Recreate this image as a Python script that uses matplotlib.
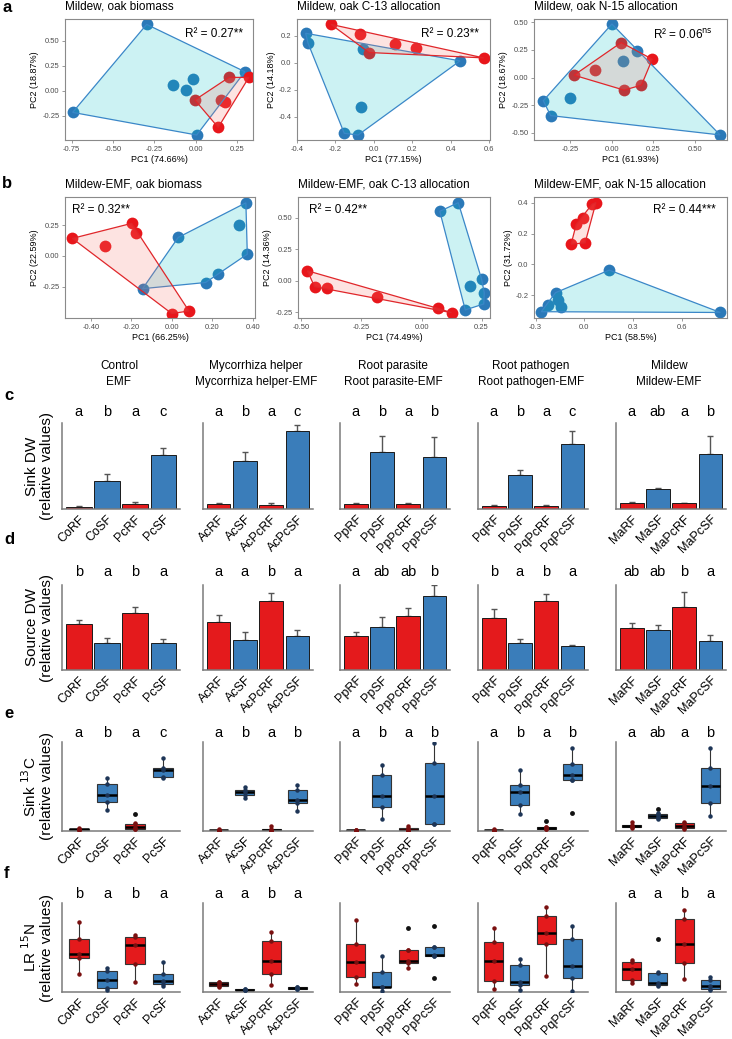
import numpy as np
import matplotlib.pyplot as plt
from matplotlib.transforms import blended_transform_factory

plt.rcParams['font.family'] = ['Liberation Sans', 'DejaVu Sans']

# ---- PCA data (a, b) ----
a1_blue = [(-0.297, 0.663), (-0.744, -0.217), (0.005, -0.443), (0.296, 0.19), (-0.136, 0.057), (-0.06, 0.007), (-0.016, 0.117)]
a1_red = [(-0.006, -0.093), (0.2, 0.133), (0.32, 0.133), (0.15, -0.093), (0.175, -0.11), (0.135, -0.367)]
a2_blue = [(-0.355, 0.22), (-0.343, 0.148), (-0.056, 0.106), (0.449, 0.015), (-0.068, -0.326), (-0.154, -0.523), (-0.082, -0.536)]
a2_red = [(-0.223, 0.286), (-0.071, 0.217), (-0.025, 0.077), (0.108, 0.143), (0.22, 0.114), (0.572, 0.037)]
a3_blue = [(0.0, 0.485), (-0.413, -0.21), (-0.369, -0.345), (-0.254, -0.19), (0.066, 0.151), (0.15, 0.24), (0.651, -0.52)]
a3_red = [(-0.228, 0.021), (-0.103, 0.066), (0.056, 0.317), (0.243, 0.166), (0.073, -0.114), (0.178, -0.069)]
b1_blue = [(-0.145, -0.266), (0.031, 0.15), (0.166, -0.216), (0.229, -0.143), (0.329, 0.25), (0.365, 0.431), (0.372, 0.014)]
b1_red = [(-0.492, 0.142), (-0.331, 0.083), (-0.199, 0.264), (-0.179, 0.187), (-0.001, -0.468), (0.084, -0.447)]
b2_blue = [(0.076, 0.55), (0.153, 0.618), (0.203, -0.04), (0.25, 0.013), (0.261, -0.095), (0.259, -0.184), (0.182, -0.231)]
b2_red = [(-0.475, 0.079), (-0.445, -0.047), (-0.392, -0.06), (-0.187, -0.126), (0.067, -0.218), (0.125, -0.253)]
b3_blue = [(-0.265, -0.308), (-0.222, -0.264), (-0.177, -0.184), (-0.159, -0.232), (-0.142, -0.275), (0.154, -0.037), (0.839, -0.313)]
b3_red = [(-0.081, 0.132), (-0.05, 0.26), (-0.009, 0.299), (0.005, 0.14), (0.048, 0.392), (0.072, 0.403)]

pca_titles = ['Mildew, oak biomass', 'Mildew, oak C-13 allocation', 'Mildew, oak N-15 allocation',
              'Mildew-EMF, oak biomass', 'Mildew-EMF, oak C-13 allocation', 'Mildew-EMF, oak N-15 allocation']
pca_xlabels = ['PC1 (74.66%)', 'PC1 (77.15%)', 'PC1 (61.93%)', 'PC1 (66.25%)', 'PC1 (74.49%)', 'PC1 (58.5%)']
pca_ylabels = ['PC2 (18.87%)', 'PC2 (14.18%)', 'PC2 (18.67%)', 'PC2 (22.59%)', 'PC2 (14.36%)', 'PC2 (31.72%)']
pca_r2 = ['R² = 0.27**', 'R² = 0.23**', r'R² = 0.06$^{\rm ns}$',
          'R² = 0.32**', 'R² = 0.42**', 'R² = 0.44***']

# ---- bar / box data (c-f) ----
group_titles = ['Control\nEMF', 'Mycorrhiza helper\nMycorrhiza helper-EMF', 'Root parasite\nRoot parasite-EMF',
                'Root pathogen\nRoot pathogen-EMF', 'Mildew\nMildew-EMF']
treat_labels = [['CoRF', 'CoSF', 'PcRF', 'PcSF'], ['AcRF', 'AcSF', 'AcPcRF', 'AcPcSF'],
                ['PpRF', 'PpSF', 'PpPcRF', 'PpPcSF'], ['PqRF', 'PqSF', 'PqPcRF', 'PqPcSF'],
                ['MaRF', 'MaSF', 'MaPcRF', 'MaPcSF']]

sink_dw_mean = [[2.7, 32.6, 5.8, 63.1], [5.8, 56.2, 5.0, 90.7], [5.8, 66.6, 5.8, 60.8],
                [3.5, 39.9, 3.5, 75.6], [7.3, 23.6, 6.6, 64.0]]
sink_dw_se = [[1.2, 8.1, 2.0, 7.8], [1.6, 10.5, 1.4, 6.6], [1.0, 18.6, 1.2, 23.3],
              [0.8, 5.4, 0.8, 15.1], [1.0, 1.0, 0.8, 21.3]]
sink_dw_letters = [['a', 'b', 'a', 'c'], ['a', 'b', 'a', 'c'], ['a', 'b', 'a', 'b'],
                   ['a', 'b', 'a', 'c'], ['a', 'ab', 'a', 'b']]

source_dw_mean = [[54.1, 32.1, 67.5, 31.4], [56.5, 35.3, 81.2, 40.4], [40.0, 50.2, 63.5, 87.5],
                  [61.6, 32.2, 81.6, 28.2], [49.8, 47.1, 74.5, 34.5]]
source_dw_se = [[4.7, 5.1, 7.1, 4.7], [7.8, 9.8, 9.0, 6.7], [4.3, 12.5, 9.0, 12.9],
                [9.8, 3.9, 7.8, 0.8], [5.9, 5.5, 17.6, 7.1]]
source_dw_letters = [['b', 'a', 'b', 'a'], ['a', 'a', 'b', 'a'], ['a', 'ab', 'ab', 'b'],
                     ['b', 'a', 'b', 'a'], ['ab', 'ab', 'b', 'a']]

# (whisker low, q1, median, q3, whisker high)
sink_c13_box = [
    [(0.7, 1.1, 1.9, 2.6, 3.0), (23.5, 32.5, 41.0, 52.6, 59.0), (1.9, 2.6, 4.9, 7.5, 8.6), (59.0, 60.8, 69.0, 71.3, 82.5)],
    [(0.4, 0.7, 1.1, 1.5, 1.9), (37.3, 40.3, 43.3, 45.9, 49.6), (0.2, 0.4, 1.1, 1.9, 6.0), (22.8, 31.0, 34.7, 46.6, 52.2)],
    [(0.2, 0.4, 0.7, 1.1, 1.5), (13.1, 27.2, 39.2, 62.7, 73.9), (0.2, 0.7, 1.5, 3.0, 5.6), (7.8, 7.8, 39.2, 76.9, 98.9)],
    [(0.4, 0.7, 1.1, 1.5, 1.9), (19.0, 29.1, 44.0, 51.5, 69.0), (2.2, 2.6, 3.4, 4.1, 4.5), (57.8, 57.8, 62.7, 75.7, 93.3)],
    [(3.4, 4.1, 5.2, 6.7, 10.4), (13.1, 14.2, 16.8, 18.7, 19.8), (2.2, 3.7, 5.6, 8.6, 9.7), (16.8, 31.7, 50.4, 71.3, 93.7)]]
sink_c13_fliers = [[[], [], [19.0], []], [[], [], [], []], [[], [], [], []],
                   [[], [], [11.6], [19.8]], [[], [25.0], [], []]]
sink_c13_letters = [['a', 'b', 'a', 'c'], ['a', 'b', 'a', 'b'], ['a', 'b', 'a', 'b'],
                    ['a', 'b', 'a', 'b'], ['a', 'ab', 'a', 'b']]

lr_n15_box = [
    [(20.0, 37.7, 42.6, 59.2, 78.5), (1.9, 4.5, 13.2, 23.4, 27.2), (11.3, 31.3, 52.8, 61.5, 64.2), (6.4, 8.7, 12.8, 20.4, 33.2)],
    [(5.7, 7.2, 9.1, 10.9, 11.7), (1.9, 2.3, 2.6, 3.0, 3.4), (7.9, 20.0, 34.7, 57.4, 67.9), (3.0, 3.4, 4.5, 5.3, 5.7)],
    [(9.4, 17.0, 33.2, 54.0, 81.1), (1.1, 5.3, 5.7, 22.3, 40.4), (27.5, 32.1, 35.1, 47.2, 47.2), (40.8, 40.8, 41.5, 50.9, 50.9)],
    [(3.8, 12.5, 34.7, 56.6, 71.7), (2.6, 7.9, 11.3, 29.8, 36.6), (17.7, 54.0, 66.0, 85.7, 95.1), (1.1, 16.2, 29.1, 60.0, 73.6)],
    [(10.2, 14.0, 26.4, 33.2, 35.8), (6.4, 7.5, 10.2, 21.5, 22.6), (14.7, 32.1, 53.6, 81.9, 91.7), (1.9, 3.0, 6.8, 14.0, 17.0)]]
lr_n15_fliers = [[[], [], [], []], [[], [], [], []], [[], [], [71.7], [73.6, 16.2]],
                 [[], [], [], []], [[], [59.2], [], []]]
lr_n15_letters = [['b', 'a', 'b', 'a'], ['a', 'a', 'b', 'a'], ['', '', '', ''],
                  ['', '', '', ''], ['a', 'a', 'b', 'a']]

RED, BLUE = '#E41A1C', '#3A7DBA'
PT_BLUE, PT_RED = '#2B79B8', '#E8161B'
W, H = 732, 1039
fig = plt.figure(figsize=(W / 100, H / 100), dpi=100)


def px_axes(x0, y0, x1, y1):
    return fig.add_axes([x0 / W, 1 - y1 / H, (x1 - x0) / W, (y1 - y0) / H])


def hull(pts):
    pts = sorted(set(pts))

    def cross(o, a, b):
        return (a[0] - o[0]) * (b[1] - o[1]) - (a[1] - o[1]) * (b[0] - o[0])
    lower, upper = [], []
    for p in pts:
        while len(lower) >= 2 and cross(lower[-2], lower[-1], p) <= 0:
            lower.pop()
        lower.append(p)
    for p in reversed(pts):
        while len(upper) >= 2 and cross(upper[-2], upper[-1], p) <= 0:
            upper.pop()
        upper.append(p)
    return np.array(lower[:-1] + upper[:-1])


def pca_panel(rect, blue, red, k, xlim, ylim, xt, yt, fmt, r2xy):
    ax = px_axes(*rect)
    for pts, col in ((blue, PT_BLUE), (red, PT_RED)):
        arr = np.array(pts)
        ax.scatter(arr[:, 0], arr[:, 1], s=72, color=col, linewidths=0, zorder=2)
    for pts, col, fill in ((blue, '#3A87C8', '#00BFC4'), (red, '#E0262A', '#F8766D')):
        h = hull(pts)
        ax.fill(h[:, 0], h[:, 1], facecolor=fill, alpha=0.2, edgecolor='none', zorder=3)
        ax.fill(h[:, 0], h[:, 1], facecolor='none', edgecolor=col, lw=0.9, zorder=3)
    ax.set_xlim(*xlim)
    ax.set_ylim(*ylim)
    ax.set_xticks(xt)
    ax.set_yticks(yt)
    ax.set_xticklabels([fmt % v for v in xt])
    ax.set_yticklabels([fmt % v for v in yt])
    ax.tick_params(labelsize=5.5, colors='#8a8a8a', labelcolor='#4d4d4d', length=2.5, width=0.6, pad=1.5)
    for s in ax.spines.values():
        s.set_color('#8a8a8a')
        s.set_linewidth(0.8)
    ax.set_xlabel(pca_xlabels[k], fontsize=6.5, labelpad=1.5)
    ax.set_ylabel(pca_ylabels[k], fontsize=6.5, labelpad=2)
    ax.text(0.0, 1.1, pca_titles[k], transform=ax.transAxes, fontsize=8.5, ha='left', va='center')
    ax.text(r2xy[0], r2xy[1], pca_r2[k], transform=ax.transAxes, fontsize=8.5, ha='center', va='center')
    return ax


pca_panel((65, 19, 253, 140), a1_blue, a1_red, 0, (-0.79, 0.345), (-0.493, 0.717),
          [-0.75, -0.5, -0.25, 0, 0.25], [-0.25, 0, 0.25, 0.5], '%.2f', (0.79, 0.88))
pca_panel((297, 19, 490, 140), a2_blue, a2_red, 1, (-0.395, 0.605), (-0.573, 0.326),
          [-0.4, -0.2, 0, 0.2, 0.4, 0.6], [-0.4, -0.2, 0, 0.2], '%.1f', (0.79, 0.88))
pca_panel((534, 19, 727, 140), a3_blue, a3_red, 2, (-0.469, 0.693), (-0.566, 0.53),
          [-0.25, 0, 0.25, 0.5], [-0.5, -0.25, 0, 0.25, 0.5], '%.2f', (0.77, 0.88))
pca_panel((65, 197, 255, 318), b1_blue, b1_red, 3, (-0.528, 0.41), (-0.504, 0.478),
          [-0.4, -0.2, 0, 0.2, 0.4], [-0.25, 0, 0.25], '%.2f', (0.19, 0.89))
pca_panel((298, 197, 490, 318), b2_blue, b2_red, 4, (-0.514, 0.285), (-0.295, 0.663),
          [-0.5, -0.25, 0, 0.25], [-0.25, 0, 0.25, 0.5], '%.2f', (0.21, 0.89))
pca_panel((534, 197, 727, 318), b3_blue, b3_red, 5, (-0.31, 0.88), (-0.349, 0.439),
          [-0.3, 0, 0.3, 0.6], [-0.2, 0, 0.2, 0.4], '%.1f', (0.78, 0.89))

# ---- c-f grid ----
col_left = [62, 203, 340, 478, 616]
col_width = [118, 110, 110, 110, 110]
cols = [RED, BLUE, RED, BLUE]
pos = [1, 2, 3, 4]


def style_small(ax, labels, letters, lety):
    ax.set_xlim(0.4, 4.6)
    ax.set_ylim(0, 100)
    for s in ('top', 'right'):
        ax.spines[s].set_visible(False)
    for s in ('left', 'bottom'):
        ax.spines[s].set_color('#7a7a7a')
        ax.spines[s].set_linewidth(1.1)
    ax.set_yticks([])
    ax.set_xticks(pos)
    ax.set_xticklabels(labels, rotation=45, ha='right', va='top', rotation_mode='anchor', fontsize=9)
    ax.tick_params(axis='x', length=0, pad=3)
    tr = blended_transform_factory(ax.transData, ax.transAxes)
    for p, l in zip(pos, letters):
        ax.text(p, lety, l, transform=tr, ha='center', va='center', fontsize=10.5)


def bar_row(y0, y1, means, ses, letters, ylabel, lety):
    for g in range(5):
        ax = px_axes(col_left[g], y0, col_left[g] + col_width[g], y1)
        ax.bar(pos, means[g], width=0.9, color=cols, edgecolor='#1a1a1a', linewidth=0.7, zorder=2)
        ax.errorbar(pos, means[g], yerr=[np.zeros(4), ses[g]], fmt='none', ecolor='#555555',
                    elinewidth=1.0, capsize=2.2, capthick=1.0, zorder=1)
        style_small(ax, treat_labels[g], letters[g], lety)
        if g == 0:
            ax.set_ylabel(ylabel, fontsize=11, labelpad=6, linespacing=1.1)


def box_row(y0, y1, boxes, fliers, letters, ylabel, lety):
    for g in range(5):
        ax = px_axes(col_left[g], y0, col_left[g] + col_width[g], y1)
        stats = [dict(whislo=b[0], q1=b[1], med=b[2], q3=b[3], whishi=b[4], fliers=f)
                 for b, f in zip(boxes[g], fliers[g])]
        bp = ax.bxp(stats, positions=pos, widths=0.72, patch_artist=True, showcaps=False,
                    boxprops=dict(edgecolor='#333333', linewidth=0.8),
                    medianprops=dict(color='black', linewidth=1.8),
                    whiskerprops=dict(color='#333333', linewidth=0.8),
                    flierprops=dict(marker='o', markersize=3.5, markerfacecolor='#111111',
                                    markeredgecolor='none'))
        for patch, c in zip(bp['boxes'], cols):
            patch.set_facecolor(c)
        for p, b, c in zip(pos, boxes[g], cols):
            dot = '#7a1010' if c == RED else '#1d3557'
            ax.plot([p] * 5, b, 'o', ms=2.2, color=dot, zorder=4)
        style_small(ax, treat_labels[g], letters[g], lety)
        if g == 0:
            ax.set_ylabel(ylabel, fontsize=11, labelpad=6, linespacing=1.1)


bar_row(423, 509, sink_dw_mean, sink_dw_se, sink_dw_letters, 'Sink DW\n(relative values)', 1.128)
bar_row(585, 670, source_dw_mean, source_dw_se, source_dw_letters, 'Source DW\n(relative values)', 1.153)
box_row(742, 831, sink_c13_box, sink_c13_fliers, sink_c13_letters, 'Sink $^{13}$C\n(relative values)', 1.10)
box_row(903, 992, lr_n15_box, lr_n15_fliers, lr_n15_letters, 'LR $^{15}$N\n(relative values)', 1.10)

for g in range(5):
    fig.text((col_left[g] + col_width[g] / 2 - 2) / W, 1 - 374 / H, group_titles[g],
             ha='center', va='center', fontsize=8.5, linespacing=1.35)

for lab, (x, y) in zip('abcdef', [(7, 8), (7, 183), (9, 395), (9, 539), (9, 713), (7, 873)]):
    fig.text(x / W, 1 - y / H, lab, fontsize=12, fontweight='bold', ha='center', va='center')

fig.savefig('out.png', dpi=100)
